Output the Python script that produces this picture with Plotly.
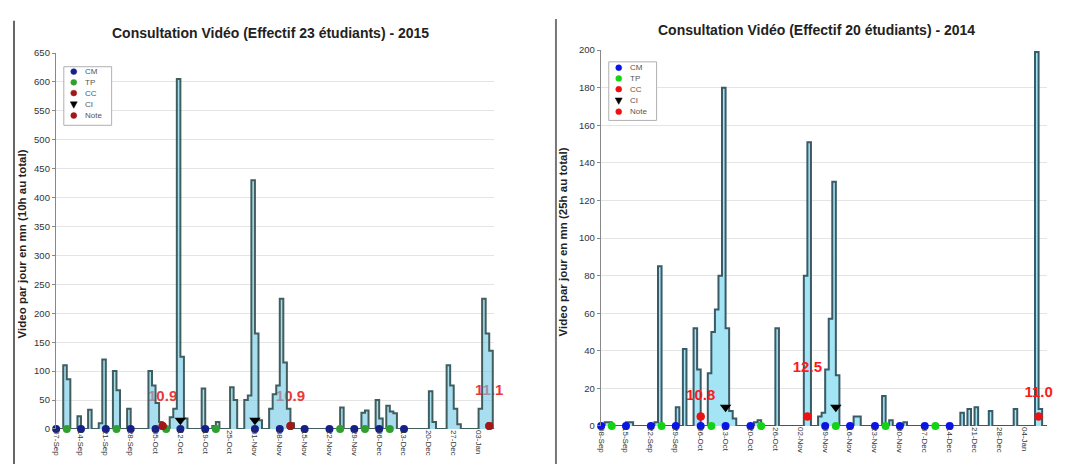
import pandas as pd
import plotly.graph_objects as go

# ---------------- DATA ----------------
start_2015 = pd.Timestamp("2015-09-07")
start_2014 = pd.Timestamp("2014-09-08")
span_2015 = 124
span_2014 = 126

# daily viewing minutes (day offset from start, minutes)
days_2015 = [2, 3, 6, 9, 12, 13, 16, 17, 20, 26, 27, 28, 29, 32, 33, 34, 35, 36, 41, 44, 45,
             49, 50, 53, 54, 55, 56, 57, 60, 61, 62, 63, 64, 65, 66, 80, 86, 87, 90, 91, 93,
             94, 95, 105, 106, 110, 111, 112, 113, 119, 120, 121, 122]
mins_2015 = [110, 86, 22, 33, 10, 120, 100, 67, 35, 100, 75, 45, 12, 20, 35, 605, 125, 18, 70, 5, 12,
             72, 50, 50, 58, 430, 165, 15, 35, 60, 75, 225, 115, 35, 10, 37, 28, 32, 50, 18, 40,
             30, 27, 65, 12, 110, 75, 35, 8, 35, 225, 165, 135]

days_2014 = [1, 2, 7, 8, 15, 16, 21, 23, 26, 27, 30, 31, 32, 33, 34, 35, 36, 37, 43, 44, 49,
             57, 58, 61, 62, 63, 64, 65, 66, 71, 72, 79, 81, 85, 101, 103, 105, 109, 116, 122, 123]
mins_2014 = [2, 2, 2, 2, 2, 85, 10, 41, 52, 30, 28, 50, 62, 80, 180, 52, 8, 4, 2, 3, 52,
             80, 151, 5, 7, 30, 57, 130, 27, 5, 5, 16, 3, 2, 7, 9, 10, 8, 9, 199, 9]

# events (day offsets)
cm_2015 = [0, 7, 14, 21, 28, 35, 42, 56, 63, 70, 77, 84, 91, 98]
tp_2015 = [3, 17, 31, 45, 80, 87, 94]
ci_2015 = [35, 56]
ci_val_2015 = [15, 15]
note_days_2015 = [30, 66, 122]
note_text_2015 = ["10.9", "10.9", "11.1"]
note_label_y_2015 = [55, 55, 65]

cm_2014 = [0, 7, 14, 21, 28, 35, 42, 63, 70, 77, 84, 91, 98]
tp_2014 = [3, 17, 31, 45, 66, 80, 94]
ci_2014 = [35, 66]
ci_val_2014 = [10, 10]
note_days_2014 = [28, 58, 123]
note_text_2014 = ["10.8", "12.5", "11.0"]
note_label_y_2014 = [16, 30.5, 17.5]
note_marker_val = 5

ticks_2015 = ["07-Sep", "14-Sep", "21-Sep", "28-Sep", "05-Oct", "12-Oct", "19-Oct", "25-Oct",
              "01-Nov", "08-Nov", "15-Nov", "22-Nov", "29-Nov", "06-Dec", "13-Dec", "20-Dec",
              "27-Dec", "03-Jan"]
ticks_2014 = ["08-Sep", "15-Sep", "22-Sep", "29-Sep", "06-Oct", "13-Oct", "20-Oct", "26-Oct",
              "02-Nov", "09-Nov", "16-Nov", "23-Nov", "30-Nov", "07-Dec", "14-Dec", "21-Dec",
              "28-Dec", "04-Jan"]

legend_labels = ["CM", "TP", "CC", "CI", "Note"]

title_2015 = "Consultation Vidéo (Effectif 23 étudiants) - 2015"
title_2014 = "Consultation Vidéo (Effectif 20 étudiants) - 2014"
ytitle_2015 = "Video par jour en mn (10h au total)"
ytitle_2014 = "Video par jour en mn (25h au total)"

# ---------------- HELPERS ----------------
W, H = 1072, 464
OFF = 8  # page body margin


def X(px):
    return (px - OFF) / W


def Y(py):
    return 1 - (py - OFF) / H


def dates(start, offs):
    return [start + pd.Timedelta(days=d) for d in offs]


def daily(start, span, days, mins):
    vals = [0] * (span + 1)
    for d, m in zip(days, mins):
        vals[d] = m
    return dates(start, range(span + 1)), vals


FONT = "Liberation Sans, Arial, sans-serif"

fig = go.Figure()

panels = [
    dict(start=start_2015, span=span_2015, days=days_2015, mins=mins_2015, cm=cm_2015, tp=tp_2015,
         ci=ci_2015, civ=ci_val_2015, nd=note_days_2015, nt=note_text_2015, ny=note_label_y_2015,
         ticks=ticks_2015, xa="x", ya="y",
         colors=["#15208a", "#2fa02f", "#a01818", "black", "#a01818"], c_txt="#e83a3a",
         line="#405e5e", fill="rgba(112,200,232,0.6)", text_behind=True,
         leg_box=(60, 62, 108, 122), leg_y=[67, 78, 89, 101, 112], leg_mx=70, leg_tx=79),
    dict(start=start_2014, span=span_2014, days=days_2014, mins=mins_2014, cm=cm_2014, tp=tp_2014,
         ci=ci_2014, civ=ci_val_2014, nd=note_days_2014, nt=note_text_2014, ny=note_label_y_2014,
         ticks=ticks_2014, xa="x2", ya="y2",
         colors=["#0a14e6", "#14d214", "#ee1111", "black", "#ee1111"], c_txt="#ff1a1a",
         line="#3a5a66", fill="#a3e4f5", text_behind=False,
         leg_box=(607, 57, 655, 117), leg_y=[63, 74, 85, 97, 108], leg_mx=617, leg_tx=626),
]

for p in panels:
    xs, ys = daily(p["start"], p["span"], p["days"], p["mins"])
    text_tr = go.Scatter(
        x=dates(p["start"], p["nd"]), y=p["ny"], mode="text", text=p["nt"],
        textfont=dict(family=FONT, size=15, color=p["c_txt"], weight="bold"),
        showlegend=False, xaxis=p["xa"], yaxis=p["ya"], cliponaxis=False, hoverinfo="skip")
    area_tr = go.Scatter(
        x=xs, y=ys, mode="lines", line=dict(shape="hv", color=p["line"], width=2),
        fill="tozeroy", fillcolor=p["fill"], showlegend=False, xaxis=p["xa"], yaxis=p["ya"])
    if p["text_behind"]:
        fig.add_trace(text_tr)
        fig.add_trace(area_tr)
    else:
        fig.add_trace(area_tr)
    c = p["colors"]
    common = dict(xaxis=p["xa"], yaxis=p["ya"], cliponaxis=False, mode="markers", showlegend=False)
    fig.add_trace(go.Scatter(x=dates(p["start"], p["cm"]), y=[0] * len(p["cm"]), name="CM",
                             marker=dict(symbol="circle", size=8, color=c[0]), **common))
    fig.add_trace(go.Scatter(x=dates(p["start"], p["tp"]), y=[0] * len(p["tp"]), name="TP",
                             marker=dict(symbol="circle", size=8, color=c[1]), **common))
    fig.add_trace(go.Scatter(x=dates(p["start"], p["nd"]), y=[note_marker_val] * len(p["nd"]), name="CC",
                             marker=dict(symbol="circle", size=8, color=c[2]), **common))
    fig.add_trace(go.Scatter(x=dates(p["start"], p["ci"]), y=p["civ"], name="CI",
                             marker=dict(symbol="triangle-down", size=10, color=c[3]), **common))
    fig.add_trace(go.Scatter(x=dates(p["start"], p["nd"]), y=[note_marker_val] * len(p["nd"]), name="Note",
                             marker=dict(symbol="circle", size=8, color=c[4]), **common))
    if not p["text_behind"]:
        fig.add_trace(text_tr)

    # compact legend box (drawn with shapes + annotations)
    x0, y0, x1, y1 = p["leg_box"]
    fig.add_shape(type="rect", xref="paper", yref="paper", x0=X(x0), x1=X(x1), y0=Y(y1), y1=Y(y0),
                  fillcolor="white", line=dict(color="#b0b0b0", width=1), layer="above")
    for lab, col, ly in zip(legend_labels, c, p["leg_y"]):
        mx = p["leg_mx"]
        if lab == "CI":
            path = "M {a},{b} L {c},{b} L {m},{d} Z".format(a=X(mx - 3.5), c=X(mx + 3.5), m=X(mx),
                                                          b=Y(ly - 3), d=Y(ly + 3.5))
            fig.add_shape(type="path", xref="paper", yref="paper", path=path, fillcolor=col,
                          line=dict(color=col, width=0.5), layer="above")
        else:
            fig.add_shape(type="circle", xref="paper", yref="paper", x0=X(mx - 3), x1=X(mx + 3),
                          y0=Y(ly + 3), y1=Y(ly - 3), fillcolor=col, line=dict(color=col, width=0.5),
                          layer="above")
        fig.add_annotation(x=X(p["leg_tx"]), y=Y(ly), xref="paper", yref="paper", text=lab,
                           xanchor="left", yanchor="middle", showarrow=False,
                           font=dict(family=FONT, size=8, color="#555"))


def xaxis(start, span, ticks, domain, anchor):
    return dict(domain=domain, type="date", anchor=anchor,
                range=[start - pd.Timedelta(hours=2), start + pd.Timedelta(days=span - 0.6)],
                tickmode="array", tickvals=dates(start, [7 * i for i in range(len(ticks))]),
                ticktext=ticks, tickangle=90, tickfont=dict(family=FONT, size=8, color="#333"),
                showgrid=False, zeroline=False, showline=False, ticks="")


def yaxis(rng, dtick, domain, anchor):
    return dict(domain=domain, range=rng, dtick=dtick, tick0=0, anchor=anchor,
                showgrid=True, gridcolor="#e4e4e4", gridwidth=1, zeroline=False,
                showline=True, linecolor="#888", linewidth=1, ticks="outside", ticklen=3,
                tickcolor="#888", tickfont=dict(family=FONT, size=9.5, color="#333"))


fig.update_layout(
    width=W, height=H, margin=dict(l=0, r=0, t=0, b=0),
    paper_bgcolor="white", plot_bgcolor="white", showlegend=False,
    xaxis=xaxis(start_2015, span_2015, ticks_2015, [X(52), X(492)], "y"),
    xaxis2=xaxis(start_2014, span_2014, ticks_2014, [X(599), X(1047)], "y2"),
    yaxis=yaxis([0, 650], 50, [Y(433), Y(48)], "x"),
    yaxis2=yaxis([0, 200], 20, [Y(430), Y(45)], "x2"),
)

# titles and axis titles
fig.add_annotation(x=X(267), y=Y(27), xref="paper", yref="paper", text="<b>" + title_2015 + "</b>",
                   xanchor="center", yanchor="middle", showarrow=False,
                   font=dict(family=FONT, size=14, color="#222"))
fig.add_annotation(x=X(816), y=Y(24), xref="paper", yref="paper", text="<b>" + title_2014 + "</b>",
                   xanchor="center", yanchor="middle", showarrow=False,
                   font=dict(family=FONT, size=14, color="#222"))
fig.add_annotation(x=X(18), y=Y(243), xref="paper", yref="paper", text="<b>" + ytitle_2015 + "</b>",
                   xanchor="center", yanchor="middle", textangle=-90, showarrow=False,
                   font=dict(family=FONT, size=11.5, color="#222"))
fig.add_annotation(x=X(562), y=Y(241), xref="paper", yref="paper", text="<b>" + ytitle_2014 + "</b>",
                   xanchor="center", yanchor="middle", textangle=-90, showarrow=False,
                   font=dict(family=FONT, size=11.5, color="#222"))

# panel frame lines (screenshot borders)
fig.add_shape(type="line", xref="paper", yref="paper", x0=X(10), x1=X(10), y0=0, y1=Y(15),
              line=dict(color="#666", width=2))
fig.add_shape(type="line", xref="paper", yref="paper", x0=X(554), x1=X(554), y0=0, y1=Y(13),
              line=dict(color="#777", width=2))

fig.write_html("out.html")
